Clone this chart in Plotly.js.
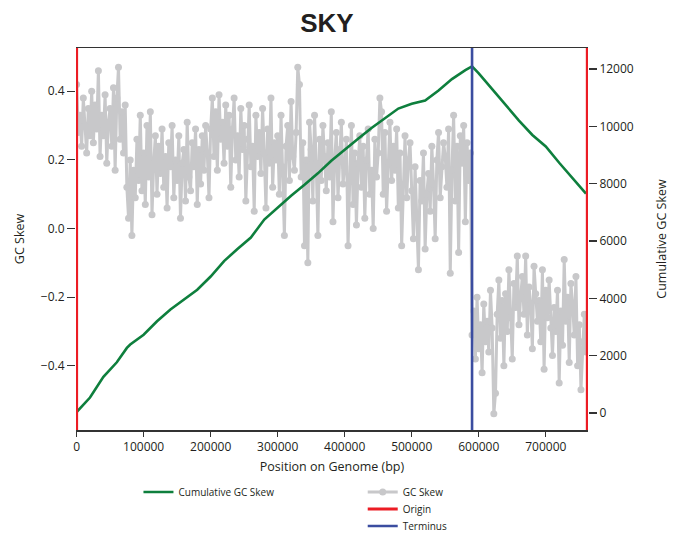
<!DOCTYPE html>
<html>
<head>
<meta charset="utf-8">
<script src="https://cdn.plot.ly/plotly-3.0.1.min.js"></script>
<style>html,body{margin:0;padding:0;background:#fff;}#chart{width:683px;height:537px;}</style>
</head>
<body>
<div id="chart"></div>
<script>
// GC skew windows (step in bp) and values
const windowStep = 2500;
const gcSkew = [
 0.42,0.28,0.33,0.24,0.38,0.30,0.22,0.35,0.27,0.40,
 0.25,0.36,0.29,0.46,0.21,0.33,0.27,0.39,0.19,0.31,
 0.35,0.24,0.41,0.17,0.38,0.47,0.26,0.34,0.22,0.36,
 0.12,0.03,0.20,-0.02,0.17,0.09,0.26,0.14,0.33,0.11,
 0.22,0.07,0.30,0.15,0.34,0.04,0.19,0.27,0.10,0.24,
 0.16,0.29,0.12,0.21,0.06,0.25,0.18,0.30,0.09,0.20,
 0.14,0.27,0.03,0.19,0.23,0.08,0.31,0.15,0.11,0.25,
 0.18,0.29,0.07,0.23,0.13,0.27,0.17,0.30,0.22,0.09,
 0.29,0.38,0.21,0.34,0.17,0.39,0.26,0.31,0.19,0.36,
 0.24,0.33,0.12,0.29,0.38,0.20,0.27,0.15,0.35,0.23,
 0.30,0.08,0.26,0.36,0.18,0.24,0.05,0.33,0.21,0.28,
 0.16,0.35,0.22,0.06,0.29,0.19,0.38,0.12,0.25,0.20,
 0.27,0.10,0.33,0.18,-0.02,0.24,0.30,0.14,0.37,0.21,
 0.17,0.28,0.47,0.42,0.15,0.25,-0.05,0.20,-0.10,0.31,
 0.23,0.08,0.33,0.19,-0.02,0.26,0.14,0.30,0.21,0.11,
 0.25,0.15,0.34,0.02,0.20,0.28,0.09,0.23,0.31,0.13,
 0.18,0.26,-0.05,0.14,0.30,0.07,0.22,0.01,0.19,0.27,
 0.12,0.24,0.03,0.20,0.29,0.10,0.17,0.00,0.26,0.15,
 0.22,0.38,0.34,0.10,0.28,0.05,0.19,0.31,0.14,0.24,
 0.17,0.29,0.06,0.22,-0.05,0.13,0.27,0.09,0.20,0.25,
 0.11,-0.03,0.18,0.04,-0.12,0.14,0.08,0.22,-0.06,0.10,
 0.16,0.05,0.24,0.13,-0.03,0.20,0.28,0.09,0.18,0.25,
 0.21,0.12,0.29,-0.13,0.17,0.33,0.08,0.24,-0.07,0.27,
 0.19,0.30,0.02,0.25,0.14,0.22,
 -0.31,-0.24,-0.38,-0.20,-0.35,-0.28,-0.42,-0.22,-0.33,-0.27,
 -0.36,-0.18,-0.29,-0.54,-0.48,-0.25,-0.15,-0.32,-0.21,-0.40,
 -0.19,-0.30,-0.12,-0.26,-0.38,-0.16,-0.23,-0.08,-0.28,-0.20,
 -0.14,-0.25,-0.08,-0.31,-0.17,-0.22,-0.35,-0.11,-0.19,-0.27,
 -0.21,-0.33,-0.12,-0.41,-0.18,-0.26,-0.15,-0.29,-0.37,-0.23,
 -0.30,-0.18,-0.45,-0.24,-0.34,-0.09,-0.27,-0.20,-0.39,-0.16,
 -0.22,-0.31,-0.14,-0.40,-0.28,-0.47,-0.33,-0.25,-0.36
];
const gcPos = gcSkew.map((v, i) => i * windowStep);

// Cumulative GC skew
const cumPos = [0,20000,40000,60000,75000,80000,100000,120000,140000,160000,180000,200000,220000,240000,260000,280000,300000,320000,340000,360000,380000,400000,420000,440000,460000,480000,500000,520000,540000,560000,580000,590000,600000,620000,640000,660000,680000,700000,720000,740000,760000];
const cumVal = [30,540,1260,1770,2270,2390,2730,3200,3610,3940,4300,4760,5300,5720,6120,6750,7170,7580,7960,8360,8800,9200,9570,9940,10280,10620,10790,10900,11250,11650,11960,12090,11850,11300,10750,10200,9700,9300,8730,8200,7650];

// Origin / terminus positions and genome length
const genomeLength = 762000;
const originPos = [0, genomeLength];
const terminusPos = 590000;

// Axis ranges and ticks
const xRange = [-900, 763000];
const yRange = [-0.587, 0.526];
const y2Range = [-593, 12733];
const xTicks = [0,100000,200000,300000,400000,500000,600000,700000];
const yTicks = [-0.4,-0.2,0,0.2,0.4];
const y2Ticks = [0,2000,4000,6000,8000,10000,12000];

const FONT = '"Open Sans", "DejaVu Sans", sans-serif';
const txt = '#231f20';

const traces = [
  {x: gcPos, y: gcSkew, type: 'scatter', mode: 'lines+markers', name: 'GC Skew',
   line: {color: '#c8c8ca', width: 3}, marker: {color: '#c8c8ca', size: 7},
   xaxis: 'x', yaxis: 'y', legend: 'legend2'},
  {x: cumPos, y: cumVal, type: 'scatter', mode: 'lines', name: 'Cumulative GC Skew',
   line: {color: '#0e7f3d', width: 2.6}, xaxis: 'x', yaxis: 'y2', legend: 'legend'},
  {x: [originPos[0], originPos[0], null, originPos[1], originPos[1]], y: [0, 1, null, 0, 1],
   type: 'scatter', mode: 'lines', name: 'Origin', line: {color: '#ec1c24', width: 3},
   xaxis: 'x', yaxis: 'y3', legend: 'legend3'},
  {x: [terminusPos, terminusPos], y: [0, 1], type: 'scatter', mode: 'lines', name: 'Terminus',
   line: {color: '#3b4da0', width: 2.6}, xaxis: 'x', yaxis: 'y3', legend: 'legend4'}
];

function leg(xp, ypx) {
  return {x: xp, y: (537 - ypx) / 537, xref: 'paper', yref: 'container', xanchor: 'left', yanchor: 'middle',
          bgcolor: 'rgba(0,0,0,0)', font: {size: 10, color: txt}, tracegroupgap: 0};
}

const layout = {
  width: 683, height: 537,
  margin: {l: 76, r: 95, t: 48, b: 107},
  paper_bgcolor: '#fff', plot_bgcolor: '#fff',
  font: {family: FONT, size: 12, color: txt},
  title: {text: '<b>SKY</b>', font: {family: '"Liberation Sans", Arial, sans-serif', size: 26, color: txt},
          x: 0.49, xref: 'paper', xanchor: 'center', y: 0.958, yref: 'container', yanchor: 'middle'},
  xaxis: {range: xRange, tickvals: xTicks, tickformat: 'd', showgrid: false, zeroline: false,
          ticks: 'outside', ticklen: 5, tickwidth: 1.2, tickcolor: '#333',
          showline: true, linecolor: '#333', linewidth: 1.5, mirror: true,
          tickfont: {size: 12, color: txt},
          title: {text: 'Position on Genome (bp)', font: {size: 12.5, color: txt}, standoff: 8}},
  yaxis: {range: yRange, tickvals: yTicks, tickformat: '.1f', showgrid: false, zeroline: false,
          ticks: 'outside', ticklen: 8, tickwidth: 1.2, tickcolor: '#333',
          showline: false,
          tickfont: {size: 12, color: txt},
          title: {text: 'GC Skew', font: {size: 12.5, color: txt}, standoff: 13}},
  yaxis2: {range: y2Range, tickvals: y2Ticks, tickformat: 'd', overlaying: 'y', side: 'right',
           showgrid: false, zeroline: false, ticks: 'outside', ticklen: 8, tickwidth: 1.2, tickcolor: '#333',
           showline: false,
           tickfont: {size: 12, color: txt},
           title: {text: 'Cumulative GC Skew', font: {size: 12.5, color: txt}, standoff: 24}},
  yaxis3: {range: [0, 1], overlaying: 'y', visible: false, fixedrange: true},
  legend: leg(0.122, 492),
  legend2: leg(0.560, 492),
  legend3: leg(0.560, 509),
  legend4: leg(0.560, 526),
  showlegend: true
};

Plotly.newPlot('chart', traces, layout, {displayModeBar: false, staticPlot: true});
</script>
</body>
</html>
